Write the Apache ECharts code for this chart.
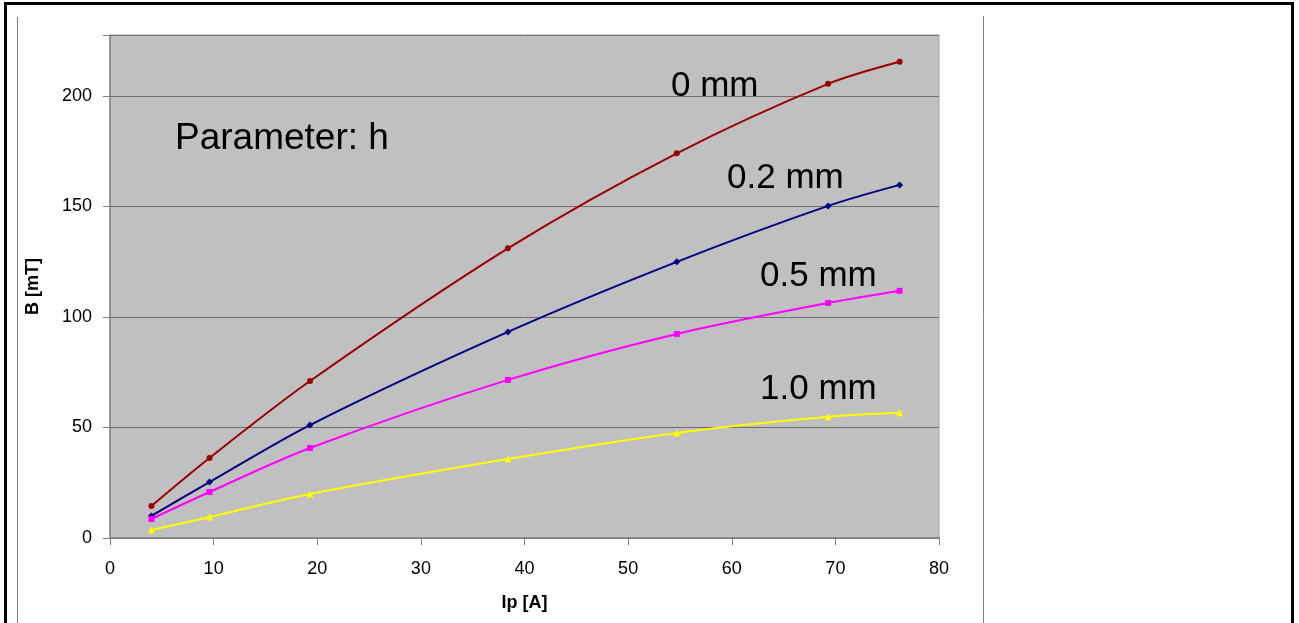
<!DOCTYPE html>
<html>
<head>
<meta charset="utf-8">
<script src="https://cdn.jsdelivr.net/npm/echarts@6/dist/echarts.min.js"></script>
<style>
  html, body { margin: 0; padding: 0; background: #fff; }
  #chart { width: 1299px; height: 623px; }
</style>
</head>
<body>
<div id="chart"></div>
<script>
// Ip [A] values of the measured points
var ipValues = [4, 9.6, 19.3, 38.4, 54.7, 69.3, 76.2];
// B [mT] per gap h
var b0mm  = [14.5, 36.2, 71, 131, 174, 205.4, 215.4];
var b02mm = [10, 25.3, 51.1, 93.2, 124.9, 150.2, 159.7];
var b05mm = [8.6, 20.8, 40.7, 71.5, 92.3, 106.3, 111.8];
var b10mm = [3.6, 9.5, 19.9, 35.7, 47.5, 54.8, 56.6];
var curveNames = ['0 mm', '0.2 mm', '0.5 mm', '1.0 mm'];
var yTicks = [0, 50, 100, 150, 200];

function pairs(ys) {
    var out = [];
    for (var i = 0; i < ipValues.length; i++) {
        out.push([ipValues[i], ys[i]]);
    }
    return out;
}

function makeSeries(name, ys, color, symbol, size) {
    return {
        name: name,
        type: 'line',
        smooth: 0.3,
        data: pairs(ys),
        symbol: symbol,
        symbolSize: size,
        lineStyle: { color: color, width: 2 },
        itemStyle: { color: color },
        z: 3
    };
}

var chart = echarts.init(document.getElementById('chart'));
var font = '"Liberation Sans", Arial, sans-serif';

var option = {
    animation: false,
    backgroundColor: '#ffffff',
    grid: {
        left: 110, right: 360, top: 35, bottom: 85,
        show: true,
        backgroundColor: '#c0c0c0',
        borderColor: '#a8a8a8',
        borderWidth: 1
    },
    xAxis: {
        type: 'value',
        min: 0, max: 80, interval: 10,
        name: 'Ip [A]',
        nameLocation: 'middle',
        nameGap: 56,
        nameTextStyle: { fontFamily: font, fontSize: 18, fontWeight: 'bold', color: '#000' },
        axisLine: { onZero: false, lineStyle: { color: '#808080', width: 1.5 } },
        axisTick: { show: true, length: 7, lineStyle: { color: '#808080' } },
        axisLabel: { fontFamily: font, fontSize: 18, color: '#000', margin: 22 },
        splitLine: { show: false }
    },
    yAxis: {
        type: 'value',
        min: 0, max: 227.5, interval: 50,
        name: 'B [mT]',
        nameLocation: 'middle',
        nameGap: 68,
        nameTextStyle: { fontFamily: font, fontSize: 18, fontWeight: 'bold', color: '#000' },
        axisLine: { show: true, lineStyle: { color: '#808080', width: 1.5 } },
        axisTick: { show: true, length: 7, lineStyle: { color: '#808080' } },
        axisLabel: {
            fontFamily: font, fontSize: 18, color: '#000', margin: 18,
            formatter: function (v) { return yTicks.indexOf(v) >= 0 ? String(v) : ''; }
        },
        splitLine: { show: true, lineStyle: { color: '#6e6e6e', width: 1 } }
    },
    series: [
        makeSeries(curveNames[0], b0mm, '#990000', 'circle', 6),
        makeSeries(curveNames[1], b02mm, '#000080', 'diamond', 7),
        makeSeries(curveNames[2], b05mm, '#ff00ff', 'rect', 6),
        makeSeries(curveNames[3], b10mm, '#ffff00', 'triangle', 7)
    ],
    graphic: [
        { type: 'rect', shape: { x: 5.5, y: 3.5, width: 1287, height: 640 },
          style: { fill: null, stroke: '#000', lineWidth: 3 }, silent: true },
        { type: 'line', shape: { x1: 17.5, y1: 17, x2: 17.5, y2: 623 },
          style: { stroke: '#808080', lineWidth: 1 }, silent: true },
        { type: 'line', shape: { x1: 983.5, y1: 16, x2: 983.5, y2: 623 },
          style: { stroke: '#808080', lineWidth: 1 }, silent: true },
        { type: 'text', left: 175, top: 120, z: 10,
          style: { text: 'Parameter: h', font: '37px ' + font, fill: '#000' } },
        { type: 'text', left: 671, top: 69, z: 10,
          style: { text: curveNames[0], font: '35px ' + font, fill: '#000' } },
        { type: 'text', left: 727, top: 161, z: 10,
          style: { text: curveNames[1], font: '35px ' + font, fill: '#000' } },
        { type: 'text', left: 760, top: 259, z: 10,
          style: { text: curveNames[2], font: '35px ' + font, fill: '#000' } },
        { type: 'text', left: 760, top: 372, z: 10,
          style: { text: curveNames[3], font: '35px ' + font, fill: '#000' } }
    ]
};

chart.setOption(option);
</script>
</body>
</html>
